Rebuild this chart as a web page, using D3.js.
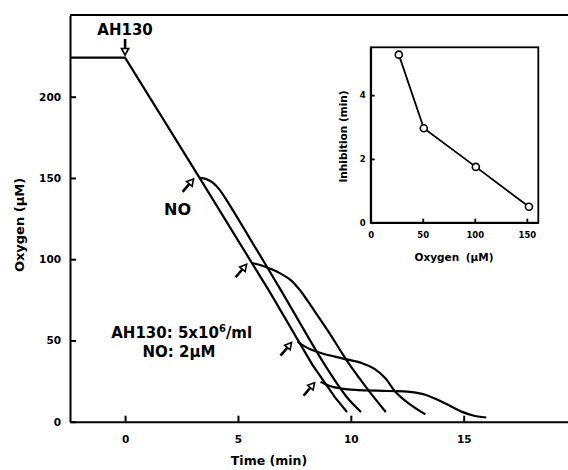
<!DOCTYPE html>
<html>
<head>
<meta charset="utf-8">
<script src="https://cdn.jsdelivr.net/npm/d3@7"></script>
<style>
  body { margin: 0; background: #fff; }
  svg { display: block; }
  text { font-family: "DejaVu Sans", sans-serif; font-weight: bold; fill: #000; }
</style>
</head>
<body>
<svg id="chart" width="568" height="470"></svg>
<script>
// Oxygen traces: [time (min), oxygen (uM)]

const control = [[-2.44, 224], [0, 224], [3.3, 150], [6.4, 80], [8.3, 35], [9.3, 15], [9.83, 6]];
const no150 = [[3.3, 150], [3.6, 149.3], [3.9, 147], [4.2, 142.5], [4.6, 134], [5.8, 106.5], [6.9, 81],
               [8.8, 36], [9.8, 15.5], [10.45, 6]];
const no100 = [[5.65, 97.5], [5.95, 96.6], [6.3, 94.8], [6.83, 91.6], [7.35, 87], [7.8, 80], [8.3, 70],
               [9.03, 55], [9.62, 42], [10.0, 34], [10.8, 19], [11.55, 6]];
const no50 = [[7.64, 49.3], [7.9, 46.8], [8.2, 44.6], [8.74, 42], [9.61, 39], [10.5, 36], [11.05, 32.5],
              [11.53, 26.7], [11.97, 18.5], [12.56, 11.3], [13.3, 4.5]];
const no25 = [[8.66, 24.6], [9.1, 21.8], [9.6, 20.4], [10.2, 19.6], [11.67, 18.9], [12.6, 18.4], [13.3, 16.6],
              [14.17, 11.3], [14.9, 6.2], [15.5, 3.5], [16.0, 2.6]];
const noTraces = [no150, no100, no50, no25];
const noAdded = [[3.3, 150], [5.65, 97.5], [7.64, 49.3], [8.66, 24.6]];  // where the arrows point

const xTicks = [0, 5, 10, 15];
const yTicks = [0, 50, 100, 150, 200];

// inset: inhibition vs oxygen
const insetOxygen = [27, 51, 101, 152];
const insetInhibition = [5.27, 2.96, 1.75, 0.5];
const insetXTicks = [0, 50, 100, 150];
const insetYTicks = [0, 2, 4];

const svg = d3.select('svg#chart');

// main scales
const x = d3.scaleLinear().domain([-2.44, 19.62]).range([70, 568]);
const y = d3.scaleLinear().domain([0, 250]).range([421.7, 15.45]);

// axes, ticks pointing inward
const yAxis = svg.append('g')
  .attr('transform', 'translate(70,0)')
  .call(d3.axisLeft(y).tickValues(yTicks).tickSizeInner(-6).tickSizeOuter(0).tickPadding(9));
const xAxis = svg.append('g')
  .attr('transform', 'translate(0,421.7)')
  .call(d3.axisBottom(x).tickValues(xTicks).tickSizeInner(-6).tickSizeOuter(0).tickPadding(14));

[xAxis, yAxis].forEach(function (g) {
  g.attr('font-family', null).attr('font-size', null);
  g.selectAll('path, line').attr('stroke', '#000').attr('stroke-width', 2);
  g.selectAll('text').style('font-size', '10.5px');
});

// top border
svg.append('line')
  .attr('x1', 70).attr('x2', 568).attr('y1', 15).attr('y2', 15)
  .attr('stroke', '#000').attr('stroke-width', 2);

// axis titles
svg.append('text')
  .attr('x', 269).attr('y', 465)
  .attr('text-anchor', 'middle')
  .style('font-size', '12.5px')
  .text('Time (min)');
svg.append('text')
  .attr('transform', 'translate(24,225) rotate(-90)')
  .attr('text-anchor', 'middle')
  .style('font-size', '13px')
  .text('Oxygen (\u00b5M)');

// traces
const line = d3.line()
  .x(function (d) { return x(d[0]); })
  .y(function (d) { return y(d[1]); });
const smooth = d3.line()
  .x(function (d) { return x(d[0]); })
  .y(function (d) { return y(d[1]); })
  .curve(d3.curveCatmullRom.alpha(0.5));

svg.append('path')
  .attr('d', line(control))
  .attr('fill', 'none').attr('stroke', '#000').attr('stroke-width', 2.2);

svg.selectAll('path.trace')
  .data(noTraces)
  .enter()
  .append('path')
  .attr('class', 'trace')
  .attr('d', smooth)
  .attr('fill', 'none').attr('stroke', '#000').attr('stroke-width', 2.2);

// arrows
function arrow(x1, y1, x2, y2) {
  const dx = x2 - x1, dy = y2 - y1;
  const len = Math.sqrt(dx * dx + dy * dy);
  const ux = dx / len, uy = dy / len;
  const bx = x2 - 6.5 * ux, by = y2 - 6.5 * uy;
  const nx = -uy * 3.6, ny = ux * 3.6;
  const g = svg.append('g');
  g.append('line')
    .attr('x1', x1).attr('y1', y1).attr('x2', bx).attr('y2', by)
    .attr('stroke', '#000').attr('stroke-width', 2.6);
  g.append('polygon')
    .attr('points', [[x2, y2], [bx + nx, by + ny], [bx - nx, by - ny]].map(function (p) { return p.join(','); }).join(' '))
    .attr('fill', '#fff').attr('stroke', '#000').attr('stroke-width', 1.6).attr('stroke-linejoin', 'miter');
}

noAdded.forEach(function (d) {
  const tx = x(d[0]) - 6, ty = y(d[1]) + 1;
  arrow(tx - 11, ty + 13, tx, ty);
});
arrow(x(0), 39, x(0), 55);

// labels
svg.append('text')
  .attr('x', x(0)).attr('y', 35)
  .attr('text-anchor', 'middle')
  .style('font-size', '15px')
  .text('AH130');
svg.append('text')
  .attr('x', 177.5).attr('y', 215)
  .attr('text-anchor', 'middle')
  .style('font-size', '16px')
  .text('NO');

const cond = svg.append('text')
  .attr('x', 181.7).attr('y', 338)
  .attr('text-anchor', 'middle')
  .style('font-size', '15px');
cond.append('tspan').text('AH130: 5x10');
cond.append('tspan').attr('dy', -6).style('font-size', '10px').text('6');
cond.append('tspan').attr('dy', 6).text('/ml');
svg.append('text')
  .attr('x', 179).attr('y', 356.7)
  .attr('text-anchor', 'middle')
  .style('font-size', '15px')
  .text('NO: 2\u00b5M');

// inset
const ix = d3.scaleLinear().domain([0, 161]).range([370.7, 538.3]);
const iy = d3.scaleLinear().domain([0, 5.5]).range([222.7, 47.3]);

svg.append('rect')
  .attr('x', ix(0)).attr('y', iy(5.5))
  .attr('width', ix(161) - ix(0)).attr('height', iy(0) - iy(5.5))
  .attr('fill', 'none').attr('stroke', '#000').attr('stroke-width', 1.8);

const iyAxis = svg.append('g')
  .attr('transform', 'translate(' + ix(0) + ',0)')
  .call(d3.axisLeft(iy).tickValues(insetYTicks).tickFormat(d3.format('d'))
    .tickSizeInner(-4).tickSizeOuter(0).tickPadding(5));
const ixAxis = svg.append('g')
  .attr('transform', 'translate(0,' + iy(0) + ')')
  .call(d3.axisBottom(ix).tickValues(insetXTicks).tickFormat(d3.format('d'))
    .tickSizeInner(-4).tickSizeOuter(0).tickPadding(9));
[ixAxis, iyAxis].forEach(function (g) {
  g.attr('font-family', null).attr('font-size', null);
  g.selectAll('path, line').attr('stroke', '#000').attr('stroke-width', 1.8);
  g.selectAll('text').style('font-size', '8.5px');
});

svg.append('text')
  .attr('x', 454).attr('y', 261)
  .attr('text-anchor', 'middle')
  .style('font-size', '10.5px')
  .style('word-spacing', '3px')
  .text('Oxygen (\u00b5M)');
svg.append('text')
  .attr('transform', 'translate(347,136.5) rotate(-90)')
  .attr('text-anchor', 'middle')
  .style('font-size', '10.5px')
  .text('Inhibition (min)');

const insetData = insetOxygen.map(function (o, i) { return [o, insetInhibition[i]]; });
svg.append('path')
  .attr('d', d3.line().x(function (d) { return ix(d[0]); }).y(function (d) { return iy(d[1]); })(insetData))
  .attr('fill', 'none').attr('stroke', '#000').attr('stroke-width', 1.8);
svg.selectAll('circle.pt')
  .data(insetData)
  .enter()
  .append('circle')
  .attr('class', 'pt')
  .attr('cx', function (d) { return ix(d[0]); })
  .attr('cy', function (d) { return iy(d[1]); })
  .attr('r', 3.5)
  .attr('fill', '#fff').attr('stroke', '#000').attr('stroke-width', 1.6);
</script>
</body>
</html>
